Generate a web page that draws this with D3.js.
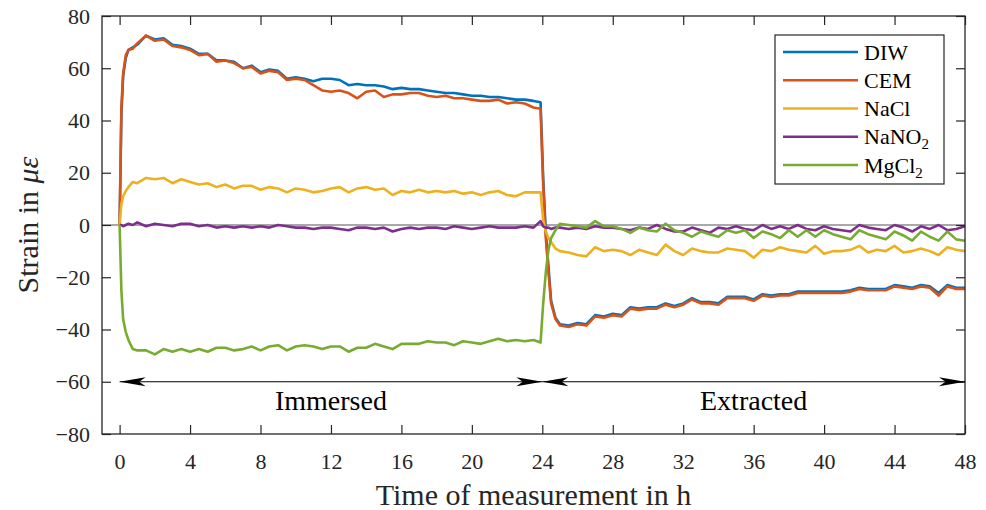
<!DOCTYPE html>
<html>
<head>
<meta charset="utf-8">
<script src="https://cdn.jsdelivr.net/npm/d3@7/dist/d3.min.js"></script>
<style>
body { margin: 0; background: #fff; }
svg { display: block; }
</style>
</head>
<body>
<svg id="chart" width="986" height="510"></svg>
<script>
// time in hours
var hours = [0, 0.1, 0.2, 0.35, 0.5, 0.75, 1, 1.5, 2, 2.5, 3, 3.5, 4, 4.5, 5, 5.5, 6, 6.5, 7, 7.5,
  8, 8.5, 9, 9.5, 10, 10.5, 11, 11.5, 12, 12.5, 13, 13.5, 14, 14.5, 15, 15.5, 16, 16.5, 17, 17.5,
  18, 18.5, 19, 19.5, 20, 20.5, 21, 21.5, 22, 22.5, 23, 23.5, 23.9, 24.05, 24.2, 24.35, 24.5, 24.75,
  25, 25.5, 26, 26.5, 27, 27.5, 28, 28.5, 29, 29.5, 30, 30.5, 31, 31.5, 32, 32.5, 33, 33.5, 34, 34.5,
  35, 35.5, 36, 36.5, 37, 37.5, 38, 38.5, 39, 39.5, 40, 40.5, 41, 41.5, 42, 42.5, 43, 43.5, 44, 44.5,
  45, 45.5, 46, 46.5, 47, 47.5, 48];

var diw = [0, 42, 57, 64, 67, 68, 69, 72.5, 71, 71.5, 69, 68.5, 67.5, 65.5, 65.5, 63, 63, 62.5, 60, 61,
  58.5, 59.5, 59, 56, 56.5, 56, 55, 56, 56, 55.5, 53.5, 54, 53.5, 53.5, 53, 52, 52.5, 52, 52, 51.5,
  51, 50.5, 50.5, 50, 49.5, 49.5, 49, 49, 48.5, 48, 48, 47.5, 47, 18, -3, -16, -29, -35.5,
  -38, -38.5, -37.5, -38, -34.5, -35, -34, -34.5, -31.5, -32, -31.5, -31.5, -30, -31, -30, -28, -29.5, -29.5, -30, -27.5,
  -27.5, -27.5, -28.5, -26.5, -27, -26.5, -26.5, -25.5, -25.5, -25.5, -25.5, -25.5, -25.5, -25, -24, -24.5, -24.5, -24.5, -23, -23.5,
  -24, -23, -23.5, -26, -23, -24, -24];

var cem = [0, 45, 58, 65, 67, 67.5, 69.5, 72.5, 70.5, 71, 68.5, 68, 67, 65, 65.5, 62.5, 63, 62, 60, 60.5,
  58, 59, 58.5, 55.5, 56, 55.5, 53.5, 51.5, 51, 51.5, 50.5, 48.5, 51, 51.5, 49, 50, 50, 50.5, 50.5, 49.5,
  49, 49.5, 48.5, 48.5, 48, 47.5, 47.5, 48, 46.5, 47, 46.5, 45, 44.5, 15, -5, -18, -30, -36,
  -38.5, -39, -38, -38.5, -35, -35.5, -34.5, -35, -32, -32.5, -32, -32, -30.5, -31.5, -30.5, -28.5, -30, -30, -30.5, -28,
  -28, -28, -29, -27, -27.5, -27, -27, -26, -26, -26, -26, -26, -26, -25.5, -24.5, -25, -25, -25, -23.5, -24,
  -24.5, -23.5, -24, -27, -23.5, -24.5, -24.5];

var nacl = [0, 8, 11, 13, 14.5, 16.5, 16, 18, 17.5, 18, 16, 17.5, 16.5, 15.5, 16, 14.5, 15.5, 14, 15, 15,
  13.5, 14.5, 14, 12.5, 14, 13.5, 12.5, 13, 14, 14.5, 12.5, 14, 14.5, 13.5, 14, 11.5, 13, 12.5, 13.5, 12.5,
  13, 12.5, 13, 12, 12.5, 11.5, 12.5, 13, 11.5, 11, 12.5, 12.5, 12.5, 2, -2.5, -5, -6.5, -9,
  -10, -10.5, -11.5, -12, -8.5, -10, -9.5, -10, -11.5, -9.5, -10.5, -11.5, -7.5, -10, -11.5, -9, -10, -10.5, -10.5, -9,
  -9.5, -10, -12.5, -9.5, -10, -8.5, -9.5, -10, -10.5, -8, -11, -10, -10, -9.5, -8, -10.5, -9.5, -10, -8, -10.5,
  -10, -9, -10, -11.5, -8.5, -9.5, -10];

var nano2 = [0, 0, -0.5, 0, 0.5, 0, 1, -0.5, 0.5, 0, -0.5, 0.5, 0.5, -0.5, 0, -1, -0.5, -1, -0.5, -1,
  -0.5, -1, 0, -0.5, -1, -1, -1.5, -1, -1, -1.5, -2, -1, -1, -1.5, -1, -2.5, -1.5, -1, -1.5, -1,
  -1, -1.5, -0.5, -1, -1.5, -1, -0.5, -1, -1, -1, -0.5, -1, 1.5, -0.5, -1, -1, -1.5, -1,
  -1, -1.5, -1, -1.5, -0.5, -1, -1, -1.5, -2, -1, -1.5, 0, -1.5, -2.5, -2.5, -1, -2, -3, -1, -1.5,
  -0.5, -1.5, -2, 0, -1.5, -0.5, -1.5, 0, -1.5, -2, -0.5, -1.5, -2, -2.5, 0, -1, -1.5, -2, 0, -1,
  -2.5, -0.5, -1.5, 0, -2, -1.5, -0.5];

var mgcl2 = [0, -25, -36, -41, -44, -47.5, -48, -48, -49.5, -47.5, -48.5, -47.5, -48.5, -47.5, -48.5, -47, -47, -48, -47.5, -46.5,
  -48, -46.5, -46, -48, -46.5, -46, -46.5, -47.5, -46.5, -46.5, -48.5, -47, -47, -45.5, -46.5, -47.5, -45.5, -45.5, -45.5, -44.5,
  -45, -45, -46, -44.5, -45, -45.5, -44.5, -43.5, -44.5, -44, -44.5, -44, -45, -30, -18, -9.5, -5, -2,
  0.5, 0, -0.5, -1, 1.5, -0.5, -0.5, -1.5, -3, -1, -2, -2.5, 0.5, -2, -3, -4.5, -2.5, -3.5, -4.5, -2,
  -3, -2, -5, -2.5, -3.5, -5, -2, -4.5, -2, -4.5, -2, -3.5, -4.5, -5.5, -2, -3.5, -4.5, -5.5, -2.5, -4,
  -6, -2.5, -4.5, -6, -2.5, -5.5, -6];

var seriesNames = ["DIW", "CEM", "NaCl", "NaNO2", "MgCl2"];
var seriesColors = ["#0072BD", "#D95319", "#EDB120", "#7E2F8E", "#77AC30"];
var seriesValues = [diw, cem, nacl, nano2, mgcl2];

var xTicks = [0, 4, 8, 12, 16, 20, 24, 28, 32, 36, 40, 44, 48];
var yTicks = [-80, -60, -40, -20, 0, 20, 40, 60, 80];

// phase arrows (hours) and labels
var phases = [
  {label: "Immersed", from: 0, to: 24},
  {label: "Extracted", from: 24, to: 48}
];
var phaseLevel = -60;
var phaseLabelLevel = -67;

var svg = d3.select("#chart");
var pL = 102, pR = 965, pT = 16, pB = 434;
var ink = "#262626";
var serif = "'Liberation Serif', serif";

var x = d3.scaleLinear().domain([-1, 48]).range([pL, pR]);
var y = d3.scaleLinear().domain([-80, 80]).range([pB, pT]);

var minus = function(v) { return String(v).replace("-", "\u2212"); };

// zero line
svg.append("line")
  .attr("x1", pL).attr("x2", pR)
  .attr("y1", y(0)).attr("y2", y(0))
  .attr("stroke", "#8c8c8c").attr("stroke-width", 1.5);

// data lines
var line = d3.line()
  .x(function(d) { return x(d[0]); })
  .y(function(d) { return y(d[1]); });

seriesValues.forEach(function(vals, i) {
  var pts = hours.map(function(h, j) { return [h, vals[j]]; });
  svg.append("path")
    .datum(pts)
    .attr("d", line)
    .attr("fill", "none")
    .attr("stroke", seriesColors[i])
    .attr("stroke-width", 2.6)
    .attr("stroke-linejoin", "round");
});

// axes
var xAxis = svg.append("g")
  .attr("transform", "translate(0," + pB + ")")
  .call(d3.axisBottom(x).tickValues(xTicks).tickSize(-9).tickPadding(19));
var xTop = svg.append("g")
  .attr("transform", "translate(0," + pT + ")")
  .call(d3.axisTop(x).tickValues(xTicks).tickSize(-9).tickFormat(""));
var yAxis = svg.append("g")
  .attr("transform", "translate(" + pL + ",0)")
  .call(d3.axisLeft(y).tickValues(yTicks).tickSize(-9).tickPadding(12).tickFormat(minus));
var yRight = svg.append("g")
  .attr("transform", "translate(" + pR + ",0)")
  .call(d3.axisRight(y).tickValues(yTicks).tickSize(-9).tickFormat(""));

[xAxis, xTop, yAxis, yRight].forEach(function(g) {
  g.select(".domain").remove();
  g.selectAll(".tick line").attr("stroke", ink).attr("stroke-width", 1.2);
  g.selectAll(".tick text").attr("font-size", 22).attr("font-family", serif).attr("fill", ink);
});

svg.append("rect")
  .attr("x", pL).attr("y", pT)
  .attr("width", pR - pL).attr("height", pB - pT)
  .attr("fill", "none").attr("stroke", ink).attr("stroke-width", 1.3);

// phase arrows
var headLen = 26, headW = 4.5;
var head = function(tipX, tipY, dir) {
  var bx = tipX - dir * headLen;
  var nx = tipX - dir * headLen * 0.75;
  return "M" + tipX + "," + tipY + "L" + bx + "," + (tipY - headW) +
    "L" + nx + "," + tipY + "L" + bx + "," + (tipY + headW) + "Z";
};
phases.forEach(function(p) {
  var x1 = x(p.from), x2 = x(p.to), yy = y(phaseLevel);
  svg.append("line")
    .attr("x1", x1).attr("x2", x2).attr("y1", yy).attr("y2", yy)
    .attr("stroke", "#000").attr("stroke-width", 1.2);
  svg.append("path").attr("d", head(x1, yy, -1)).attr("fill", "#000");
  svg.append("path").attr("d", head(x2, yy, 1)).attr("fill", "#000");
  svg.append("text")
    .attr("x", x((p.from + p.to) / 2))
    .attr("y", y(phaseLabelLevel))
    .attr("dy", "0.35em")
    .attr("text-anchor", "middle")
    .attr("font-family", serif)
    .attr("font-size", 28)
    .attr("fill", "#000")
    .text(p.label);
});

// axis titles
svg.append("text")
  .attr("x", (pL + pR) / 2).attr("y", 505)
  .attr("text-anchor", "middle")
  .attr("font-family", serif).attr("font-size", 30).attr("fill", ink)
  .text("Time of measurement in h");

var yt = svg.append("text")
  .attr("transform", "translate(38," + ((pT + pB) / 2) + ") rotate(-90)")
  .attr("text-anchor", "middle")
  .attr("font-family", serif).attr("font-size", 30).attr("fill", ink);
yt.append("tspan").text("Strain in ");
yt.append("tspan").attr("font-style", "italic").text("\u03bc\u03b5");

// legend
var lg = svg.append("g");
lg.append("rect")
  .attr("x", 775).attr("y", 35).attr("width", 169).attr("height", 149)
  .attr("fill", "#fff").attr("stroke", ink).attr("stroke-width", 1.2);
var legY = d3.scalePoint().domain(seriesNames).range([52, 165]);
seriesNames.forEach(function(name, i) {
  var yy = legY(name);
  lg.append("line")
    .attr("x1", 783).attr("x2", 858).attr("y1", yy).attr("y2", yy)
    .attr("stroke", seriesColors[i]).attr("stroke-width", 2.6);
  var t = lg.append("text")
    .attr("x", 864).attr("y", yy).attr("dy", "0.35em")
    .attr("font-family", serif).attr("font-size", 22).attr("fill", "#000");
  var m = name.match(/^(.*?)(\d)$/);
  if (m) {
    t.append("tspan").text(m[1]);
    t.append("tspan").attr("font-size", 15).attr("dy", 5).text(m[2]);
  } else {
    t.text(name);
  }
});
</script>
</body>
</html>
